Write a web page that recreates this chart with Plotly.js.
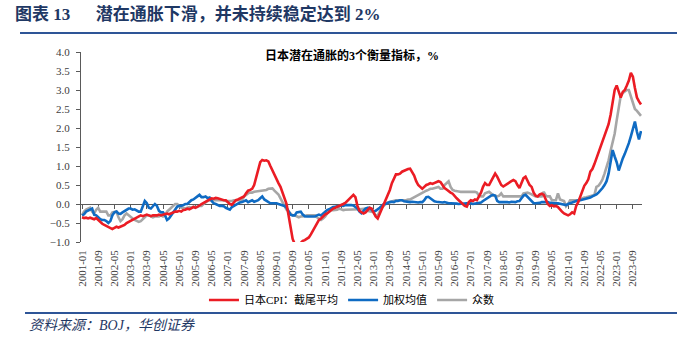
<!DOCTYPE html>
<html><head><meta charset="utf-8">
<script src="https://cdn.plot.ly/plotly-3.0.1.min.js"></script>
<style>html,body{margin:0;padding:0;background:#fff}#chart{width:677px;height:338px}</style>
</head><body><div id="chart"></div>
<script>
// Monthly categories 2001-01 .. 2024-01
const months = [];
for (let y = 2001; y <= 2024; y++) {
  for (let m = 1; m <= 12; m++) {
    if (y === 2024 && m > 1) break;
    months.push(y + '-' + String(m).padStart(2, '0'));
  }
}
const tickLabels = ['2001-01','2001-09','2002-05','2003-01','2003-09','2004-05','2005-01','2005-09','2006-05','2007-01','2007-09','2008-05','2009-01','2009-09','2010-05','2011-01','2011-09','2012-05','2013-01','2013-09','2014-05','2015-01','2015-09','2016-05','2017-01','2017-09','2018-05','2019-01','2019-09','2020-05','2021-01','2021-09','2022-05','2023-01','2023-09'];

const seriesNames = ['日本CPI：截尾平均', '加权均值', '众数'];

const trimmedMean = [
 -0.35,-0.37,-0.36,-0.38,-0.36,-0.38,-0.40,-0.37,-0.42,-0.48,-0.52,-0.55,
 -0.58,-0.60,-0.62,-0.66,-0.63,-0.60,-0.62,-0.60,-0.58,-0.55,-0.50,-0.47,
 -0.45,-0.42,-0.40,-0.36,-0.33,-0.30,-0.32,-0.30,-0.28,-0.30,-0.32,-0.30,
 -0.30,-0.30,-0.28,-0.30,-0.28,-0.27,-0.25,-0.27,-0.24,-0.22,-0.20,-0.20,
 -0.18,-0.20,-0.16,-0.15,-0.12,-0.14,-0.10,-0.08,-0.10,-0.08,-0.04,0.00,
 0.03,0.07,0.10,0.12,0.15,0.14,0.16,0.15,0.13,0.12,0.10,0.10,
 0.05,0.00,-0.02,0.05,0.10,0.12,0.15,0.18,0.20,0.28,0.35,0.37,
 0.40,0.50,0.70,0.90,1.10,1.16,1.14,1.15,1.12,1.00,0.88,0.75,
 0.65,0.55,0.45,0.30,0.15,0.00,-0.30,-0.60,-0.92,-1.05,-1.10,-1.08,
 -1.02,-0.97,-0.95,-0.92,-0.88,-0.80,-0.70,-0.58,-0.48,-0.42,-0.38,-0.32,
 -0.28,-0.25,-0.20,-0.16,-0.12,-0.10,-0.08,-0.05,-0.02,0.00,0.03,0.08,
 0.15,0.20,0.24,0.18,-0.05,-0.18,-0.22,-0.25,-0.22,-0.15,-0.10,-0.12,
 -0.25,-0.33,-0.38,-0.25,-0.12,0.00,0.12,0.22,0.37,0.55,0.68,0.78,
 0.78,0.80,0.85,0.88,0.90,0.92,0.93,0.85,0.75,0.60,0.50,0.45,
 0.40,0.45,0.50,0.52,0.55,0.53,0.55,0.58,0.60,0.58,0.50,0.42,
 0.38,0.33,0.30,0.27,0.20,0.15,0.10,0.04,0.00,-0.05,-0.07,0.05,
 0.10,0.08,0.12,0.10,0.20,0.30,0.45,0.55,0.50,0.50,0.60,0.72,
 0.80,0.72,0.60,0.50,0.46,0.50,0.52,0.58,0.60,0.63,0.60,0.50,
 0.42,0.55,0.68,0.72,0.60,0.50,0.45,0.30,0.22,0.20,0.25,0.27,
 0.24,0.10,0.00,-0.05,-0.03,-0.06,-0.05,-0.08,-0.15,-0.20,-0.25,-0.28,
 -0.30,-0.27,-0.22,-0.25,-0.05,0.05,0.20,0.35,0.48,0.55,0.65,0.85,
 0.92,1.05,1.20,1.35,1.50,1.62,1.75,1.90,2.10,2.35,2.70,3.00,
 3.12,2.95,2.80,2.95,3.00,3.12,3.25,3.45,3.35,3.05,2.80,2.70,
 2.62
];

const weightedMedian = [
 -0.30,-0.27,-0.20,-0.18,-0.15,-0.12,-0.28,-0.30,-0.35,-0.40,-0.42,-0.42,
 -0.45,-0.50,-0.45,-0.30,-0.22,-0.20,-0.25,-0.26,-0.22,-0.18,-0.15,-0.12,
 -0.12,-0.15,-0.14,-0.18,-0.20,-0.20,-0.05,0.08,0.02,-0.10,-0.12,-0.05,
 0.00,-0.05,-0.18,-0.22,-0.22,-0.30,-0.42,-0.38,-0.30,-0.20,-0.12,-0.07,
 -0.05,-0.05,-0.03,0.00,0.00,0.05,0.10,0.12,0.15,0.20,0.24,0.18,
 0.18,0.20,0.15,0.17,0.08,0.02,0.00,-0.03,-0.05,-0.05,-0.06,-0.10,
 -0.13,-0.15,-0.08,-0.05,-0.02,0.03,0.04,0.05,0.07,0.10,0.05,0.08,
 0.10,0.06,0.08,0.10,0.15,0.20,0.12,0.08,0.05,0.02,0.02,0.02,
 0.02,0.00,-0.02,-0.05,-0.05,-0.10,-0.20,-0.28,-0.30,-0.30,-0.22,-0.20,
 -0.20,-0.28,-0.32,-0.33,-0.33,-0.32,-0.33,-0.33,-0.30,-0.28,-0.30,-0.25,
 -0.22,-0.16,-0.14,-0.10,-0.08,-0.07,-0.05,-0.05,-0.04,-0.05,-0.03,-0.02,
 -0.03,-0.03,-0.04,-0.08,-0.12,-0.20,-0.24,-0.18,-0.12,-0.10,-0.10,-0.15,
 -0.20,-0.18,-0.15,-0.10,-0.05,0.00,0.00,0.03,0.05,0.06,0.05,0.08,
 0.08,0.10,0.10,0.07,0.06,0.06,0.05,0.06,0.05,0.05,0.04,0.05,
 0.05,0.10,0.18,0.19,0.15,0.10,0.07,0.06,0.05,0.05,0.04,0.05,
 0.03,0.02,0.02,0.02,0.02,0.01,0.00,0.01,0.00,0.01,0.02,0.01,
 0.02,0.00,0.01,0.02,0.02,0.04,0.08,0.12,0.15,0.20,0.22,0.24,
 0.22,0.08,0.05,0.05,0.04,0.05,0.05,0.04,0.06,0.05,0.05,0.07,
 0.08,0.15,0.22,0.24,0.18,0.12,0.06,0.02,0.02,0.02,0.03,0.05,
 0.05,0.04,0.05,0.03,0.02,0.02,0.02,0.02,0.01,0.00,-0.02,-0.03,
 0.00,0.02,0.06,0.07,0.10,0.10,0.10,0.11,0.12,0.15,0.15,0.17,
 0.20,0.22,0.25,0.30,0.35,0.42,0.50,0.60,0.80,1.10,1.42,1.25,
 1.10,0.88,1.05,1.20,1.32,1.45,1.60,1.78,2.02,2.17,1.90,1.70,
 1.92
];

const modeValue = [
 -0.29,-0.20,-0.15,-0.12,-0.10,-0.20,-0.25,-0.15,-0.10,-0.20,-0.20,-0.20,
 -0.20,-0.30,-0.30,-0.22,-0.20,-0.20,-0.35,-0.45,-0.40,-0.30,-0.25,-0.30,
 -0.35,-0.38,-0.42,-0.45,-0.47,-0.45,-0.40,-0.33,-0.30,-0.30,-0.32,-0.35,
 -0.33,-0.33,-0.33,-0.30,-0.33,-0.30,-0.20,-0.15,-0.10,-0.05,0.00,0.00,
 -0.05,-0.10,-0.10,-0.12,-0.10,-0.08,-0.10,-0.07,-0.08,-0.08,-0.05,-0.05,
 0.00,0.05,0.08,0.10,0.10,0.10,0.10,0.10,0.10,0.10,0.10,0.08,
 0.08,0.08,0.08,0.10,0.10,0.10,0.10,0.10,0.20,0.25,0.28,0.30,
 0.30,0.32,0.33,0.33,0.33,0.35,0.37,0.37,0.40,0.40,0.41,0.35,
 0.30,0.25,0.15,0.05,-0.05,-0.15,-0.20,-0.25,-0.30,-0.30,-0.33,-0.35,
 -0.33,-0.33,-0.32,-0.30,-0.30,-0.30,-0.30,-0.30,-0.35,-0.38,-0.42,-0.38,
 -0.33,-0.25,-0.20,-0.16,-0.16,-0.16,-0.15,-0.12,-0.14,-0.16,-0.15,-0.15,
 -0.15,-0.15,-0.15,-0.15,-0.15,-0.14,-0.13,-0.12,-0.12,-0.18,-0.20,-0.20,
 -0.22,-0.30,-0.30,-0.20,-0.10,-0.05,0.02,0.04,0.06,0.08,0.10,0.10,
 0.10,0.10,0.10,0.10,0.10,0.12,0.12,0.15,0.18,0.20,0.25,0.27,
 0.30,0.33,0.35,0.37,0.40,0.40,0.42,0.45,0.45,0.40,0.40,0.50,
 0.55,0.60,0.45,0.37,0.35,0.33,0.33,0.32,0.32,0.32,0.32,0.32,
 0.32,0.32,0.32,0.30,0.22,0.20,0.20,0.28,0.30,0.32,0.28,0.22,
 0.22,0.20,0.22,0.28,0.20,0.20,0.20,0.20,0.20,0.20,0.20,0.20,
 0.20,0.20,0.28,0.30,0.30,0.28,0.25,0.22,0.20,0.20,0.20,0.20,
 0.32,0.22,0.20,0.20,0.10,0.10,0.10,0.28,0.12,0.10,0.08,-0.06,
 0.00,0.10,0.10,0.10,0.10,0.10,0.12,0.15,0.17,0.18,0.20,0.20,
 0.22,0.24,0.45,0.48,0.55,0.65,0.80,0.95,1.15,1.40,1.60,1.85,
 2.20,2.55,2.85,2.92,2.96,3.00,3.00,2.85,2.65,2.50,2.45,2.38,
 2.32
];

const colors = ['#EB1C24', '#0F6BC3', '#A6A6A6'];
const serif = 'Liberation Serif, Noto Sans CJK SC';

const traces = [
  {x: months, y: trimmedMean, name: seriesNames[0], type: 'scatter', mode: 'lines', line: {color: colors[0], width: 2.6}},
  {x: months, y: weightedMedian, name: seriesNames[1], type: 'scatter', mode: 'lines', line: {color: colors[1], width: 2.6}},
  {x: months, y: modeValue, name: seriesNames[2], type: 'scatter', mode: 'lines', line: {color: colors[2], width: 2.6}},
  // invisible helper on the zero-line axis (tick marks at y = 0)
  {x: months, y: trimmedMean, xaxis: 'x2', yaxis: 'y', type: 'scatter', mode: 'lines', line: {width: 0}, opacity: 0, showlegend: false, hoverinfo: 'skip'}
];
const ordered = [traces[3], traces[2], traces[1], traces[0]];

const layout = {
  width: 677, height: 338,
  margin: {l: 81, r: 35, t: 52, b: 96},
  paper_bgcolor: '#fff', plot_bgcolor: '#fff',
  showlegend: true,
  legend: {orientation: 'h', traceorder: 'reversed', x: 0.483, xanchor: 'center', y: -0.305, yanchor: 'middle',
           font: {family: serif, size: 11, color: '#000'}, itemwidth: 30, bgcolor: 'rgba(0,0,0,0)'},
  xaxis: {type: 'category', categoryorder: 'array', categoryarray: months, range: [-0.5, months.length - 0.5],
          tickmode: 'array', tickvals: tickLabels, ticktext: tickLabels, tickangle: -90,
          showgrid: false, zeroline: false, showline: false, ticks: '',
          tickfont: {family: 'Liberation Serif', size: 11, color: '#404040'}, ticklabelstandoff: 5, fixedrange: true},
  xaxis2: {type: 'category', categoryorder: 'array', categoryarray: months, range: [-0.5, months.length - 0.5],
           overlaying: 'x', anchor: 'free', position: 0.2, side: 'bottom',
           tickmode: 'array', tickvals: tickLabels, showticklabels: false,
           showline: true, linecolor: '#5a5a5a', linewidth: 1, ticks: 'outside', ticklen: 4, tickcolor: '#5a5a5a', tickwidth: 1,
           showgrid: false, zeroline: false, layer: 'below traces', fixedrange: true},
  yaxis: {range: [-1, 4], tick0: 0, dtick: 0.5, tickformat: '.1f', showgrid: false, zeroline: false,
          showline: true, linecolor: '#5a5a5a', linewidth: 1, ticks: 'outside', ticklen: 4, tickcolor: '#5a5a5a',
          tickfont: {family: 'Liberation Serif', size: 11, color: '#404040'}, ticklabelstandoff: 4, fixedrange: true},
  shapes: [
    {type: 'line', xref: 'paper', yref: 'paper', x0: -0.1087, x1: 1.0624, y0: 1.1, y1: 1.1, line: {color: '#2E5597', width: 2}},
    {type: 'line', xref: 'paper', yref: 'paper', x0: -0.0998, x1: 1.0624, y0: -0.3737, y1: -0.3737, line: {color: '#2E5597', width: 2}}
  ],
  annotations: [
    {xref: 'paper', yref: 'paper', x: -0.1212, y: 1.2, xanchor: 'left', yanchor: 'middle', showarrow: false,
     text: '<b>图表 13\u00a0\u00a0\u00a0\u00a0\u00a0\u00a0潜在通胀下滑，并未持续稳定达到 2%</b>', font: {family: serif, size: 17, color: '#1F3864'}},
    {xref: 'paper', yref: 'paper', x: 0.483, y: 0.979, xanchor: 'center', yanchor: 'middle', showarrow: false,
     text: '<b>日本潜在通胀的3个衡量指标，%</b>', font: {family: serif, size: 12, color: '#000'}},
    {xref: 'paper', yref: 'paper', x: -0.0963, y: -0.442, xanchor: 'left', yanchor: 'middle', showarrow: false,
     text: '<i>资料来源：BOJ，华创证券</i>', font: {family: serif, size: 14, color: '#1F3864'}}
  ]
};

Plotly.newPlot('chart', ordered, layout, {displayModeBar: false, staticPlot: true});
</script>
</body></html>
